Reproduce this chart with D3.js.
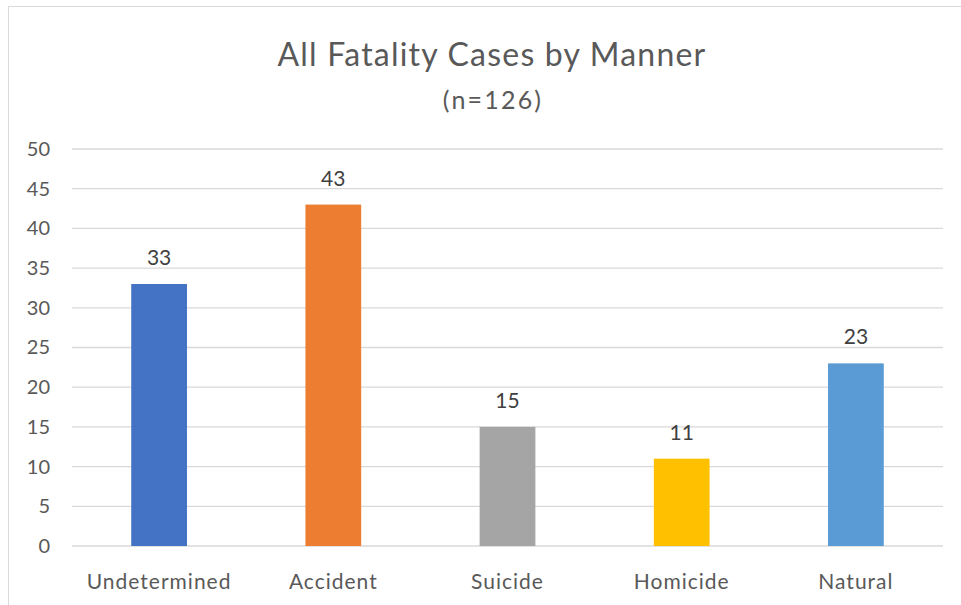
<!DOCTYPE html>
<html>
<head>
<meta charset="utf-8">
<script src="https://cdn.jsdelivr.net/npm/d3@7"></script>
<style>
  body { margin: 0; background: #fff; }
  text { font-family: Lato, "Open Sans", sans-serif; fill: #595959; }
</style>
</head>
<body>
<div class="chart"></div>
<script>
var svgWidth = 961
var svgHeight = 605

// data
var categories = ["Undetermined", "Accident", "Suicide", "Homicide", "Natural"];
var counts = [33, 43, 15, 11, 23];
var barColors = ["#4472C4", "#ED7D31", "#A5A5A5", "#FFC000", "#5B9BD5"];
var yTicks = [0, 5, 10, 15, 20, 25, 30, 35, 40, 45, 50];

var margin = { top: 149, right: 18, bottom: 59, left: 72 };
var width = svgWidth - margin.left - margin.right;
var height = svgHeight - margin.top - margin.bottom;

var svg = d3.select(".chart")
    .append("svg")
    .attr("width", svgWidth)
    .attr("height", svgHeight);

// outer chart border
svg.append("rect")
    .attr("x", 8.5)
    .attr("y", 6.5)
    .attr("width", 970)
    .attr("height", 620)
    .attr("fill", "none")
    .attr("stroke", "#d9d9d9");

svg.append("text")
    .attr("x", 492)
    .attr("y", 66)
    .attr("text-anchor", "middle")
    .style("font-size", "32px")
    .style("letter-spacing", "1.2px")
    .text("All Fatality Cases by Manner");

svg.append("text")
    .attr("x", 493)
    .attr("y", 109)
    .attr("text-anchor", "middle")
    .style("font-size", "25px")
    .style("letter-spacing", "2.2px")
    .text("(n=126)");

var chartGroup = svg.append("g")
    .attr("transform", `translate(${margin.left}, ${margin.top})`);

var xBandScale = d3.scaleBand()
    .domain(categories)
    .range([0, width])
    .paddingInner(0.68)
    .paddingOuter(0.34);

var yLinearScale = d3.scaleLinear()
    .domain([0, 50])
    .range([height, 0]);

// gridlines
chartGroup.selectAll(".grid")
    .data(yTicks)
    .enter()
    .append("line")
    .attr("x1", 0)
    .attr("x2", width)
    .attr("y1", d => yLinearScale(d))
    .attr("y2", d => yLinearScale(d))
    .attr("stroke", "#d9d9d9")
    .attr("stroke-width", 1.3);

var leftAxis = d3.axisLeft(yLinearScale)
    .tickValues(yTicks)
    .tickSize(0)
    .tickPadding(22);

var yAxis = chartGroup.append("g")
    .call(leftAxis);
yAxis.select(".domain").remove();
yAxis.selectAll("text")
    .style("font-size", "20px")
    .style("fill", "#595959");

var bottomAxis = d3.axisBottom(xBandScale)
    .tickSize(0)
    .tickPadding(28);

var xAxis = chartGroup.append("g")
    .attr("transform", `translate(0, ${height})`)
    .call(bottomAxis);
xAxis.select(".domain").remove();
xAxis.selectAll("text")
    .style("font-size", "21px")
    .style("letter-spacing", "1px")
    .style("fill", "#595959");

chartGroup.selectAll(".bar")
    .data(counts)
    .enter()
    .append("rect")
    .attr("x", (d, i) => xBandScale(categories[i]))
    .attr("y", d => yLinearScale(d))
    .attr("width", xBandScale.bandwidth())
    .attr("height", d => height - yLinearScale(d))
    .attr("fill", (d, i) => barColors[i]);

chartGroup.selectAll(".label")
    .data(counts)
    .enter()
    .append("text")
    .attr("x", (d, i) => xBandScale(categories[i]) + xBandScale.bandwidth() / 2)
    .attr("y", d => yLinearScale(d) - 19)
    .attr("text-anchor", "middle")
    .style("font-size", "21px")
    .style("fill", "#404040")
    .text(d => d);
</script>
</body>
</html>
